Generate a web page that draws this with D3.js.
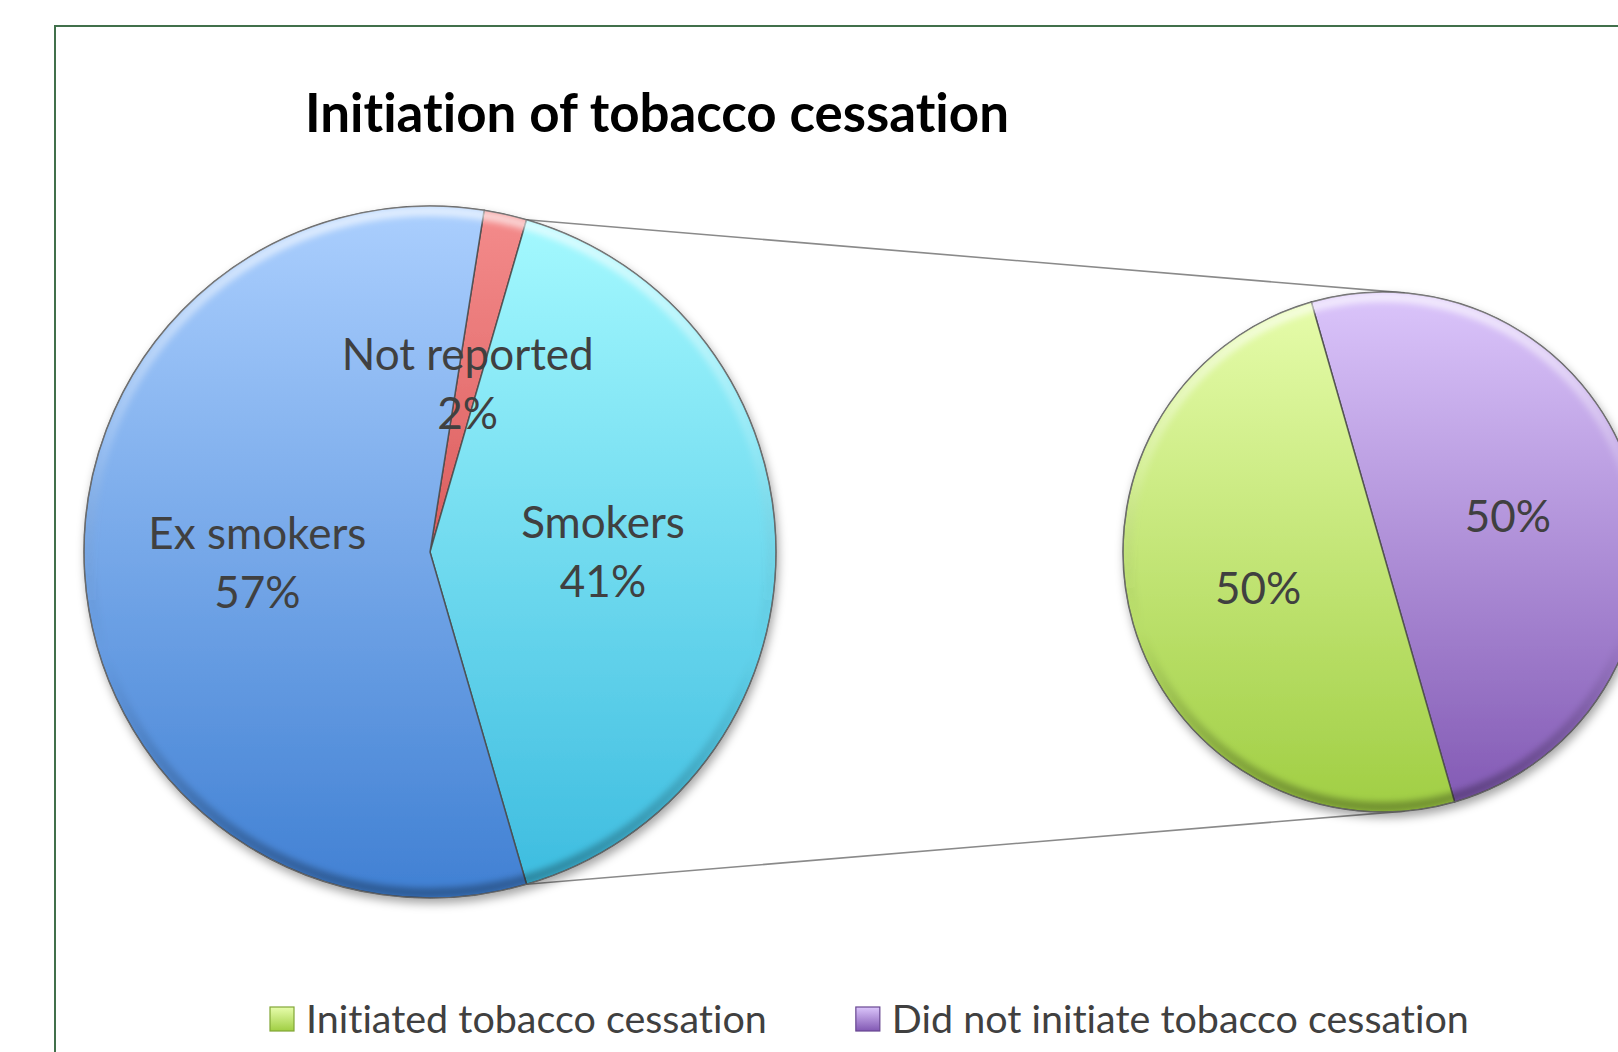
<!DOCTYPE html>
<html><head><meta charset="utf-8">
<script src="https://cdn.jsdelivr.net/npm/d3@7"></script>
<style>html,body{margin:0;padding:0;background:#fff;overflow:hidden} text{font-variant-ligatures:none;font-feature-settings:"liga" 0,"clig" 0}</style>
</head><body>
<svg id="chart" width="1618" height="1052"></svg>
<script>
// ---------- data ----------
const titleText = "Initiation of tobacco cessation";
const mainCategories = ["Not reported", "Smokers", "Ex smokers"];
const mainValues = [2, 41, 57];
const mainLabels = ["2%", "41%", "57%"];
const splitCategory = "Smokers";
const subCategories = ["Did not initiate tobacco cessation", "Initiated tobacco cessation"];
const subValues = [50, 50];
const subLabels = ["50%", "50%"];
const legendCategories = ["Initiated tobacco cessation", "Did not initiate tobacco cessation"];

// ---------- styles ----------
const sliceColors = {
  "Not reported": ["#f48c8c", "#c22e2e"],
  "Smokers": ["#a6faff", "#3bbbdf"],
  "Ex smokers": ["#abcffe", "#4080d3"],
  "Initiated tobacco cessation": ["#e7fdac", "#a0ce43"],
  "Did not initiate tobacco cessation": ["#dbc5fb", "#8158b3"]
};
const FONT = "Lato, 'Open Sans', sans-serif";
const W = 1618, H = 1052;
const mainC = {x: 430, y: 552, r: 346};
const subC = {x: 1383, y: 552, r: 260};

const svg = d3.select("#chart");
const defs = svg.append("defs");

// frame
svg.append("rect").attr("x", 55).attr("y", 26).attr("width", W).attr("height", H)
  .attr("fill", "none").attr("stroke", "#41704b").attr("stroke-width", 2);

// filters
const sh = defs.append("filter").attr("id", "shadow").attr("x", "-10%").attr("y", "-10%").attr("width", "120%").attr("height", "125%");
sh.append("feDropShadow").attr("dx", 2).attr("dy", 5).attr("stdDeviation", 5)
  .attr("flood-color", "#000").attr("flood-opacity", 0.35);
defs.append("filter").attr("id", "blur").append("feGaussianBlur").attr("stdDeviation", 3);

// rim gradient (bevel)
const rim = defs.append("linearGradient").attr("id", "rim").attr("x1", 0).attr("y1", 0).attr("x2", 0).attr("y2", 1);
rim.append("stop").attr("offset", "0%").attr("stop-color", "#fff").attr("stop-opacity", 0.65);
rim.append("stop").attr("offset", "35%").attr("stop-color", "#fff").attr("stop-opacity", 0.15);
rim.append("stop").attr("offset", "65%").attr("stop-color", "#000").attr("stop-opacity", 0.0);
rim.append("stop").attr("offset", "100%").attr("stop-color", "#000").attr("stop-opacity", 0.3);

function makeGrad(id, cols, c) {
  const g = defs.append("linearGradient").attr("id", id).attr("gradientUnits", "userSpaceOnUse")
    .attr("x1", 0).attr("x2", 0).attr("y1", c.y - c.r).attr("y2", c.y + c.r);
  g.append("stop").attr("offset", "0%").attr("stop-color", cols[0]);
  g.append("stop").attr("offset", "100%").attr("stop-color", cols[1]);
  return "url(#" + id + ")";
}

// ---------- pies ----------
const total = d3.sum(mainValues);
const splitIdx = mainCategories.indexOf(splitCategory);
const before = d3.sum(mainValues.slice(0, splitIdx));
const mainStart = Math.PI / 2 - Math.PI * mainValues[splitIdx] / total - 2 * Math.PI * before / total;
const mainPie = d3.pie().sort(null).startAngle(mainStart).endAngle(mainStart + 2 * Math.PI);
const mainArcs = mainPie(mainValues);

const subStart = -16 * Math.PI / 180;
const subPie = d3.pie().sort(null).startAngle(subStart).endAngle(subStart + 2 * Math.PI);
const subArcs = subPie(subValues);

// connectors (tangent from main split-slice edges to secondary pie)
function polar(c, a, r) { return [c.x + r * Math.sin(a), c.y - r * Math.cos(a)]; }
function tangent(P, c, pickTop) {
  const dx = P[0] - c.x, dy = P[1] - c.y, d = Math.hypot(dx, dy);
  const phi = Math.atan2(dy, dx), al = Math.acos(c.r / d);
  const t1 = [c.x + c.r * Math.cos(phi + al), c.y + c.r * Math.sin(phi + al)];
  const t2 = [c.x + c.r * Math.cos(phi - al), c.y + c.r * Math.sin(phi - al)];
  return pickTop ? (t1[1] < t2[1] ? t1 : t2) : (t1[1] > t2[1] ? t1 : t2);
}
const splitArc = mainArcs[splitIdx];
const pTop = polar(mainC, splitArc.startAngle, mainC.r);
const pBot = polar(mainC, splitArc.endAngle, mainC.r);
const line = d3.line();
[[pTop, tangent(pTop, subC, true)], [pBot, tangent(pBot, subC, false)]].forEach(seg => {
  svg.append("path").attr("d", line(seg)).attr("fill", "none")
    .attr("stroke", "#8a8a8a").attr("stroke-width", 1.6);
});

function drawPie(arcs, cats, c, idp) {
  const arc = d3.arc().innerRadius(0).outerRadius(c.r);
  const g = svg.append("g").attr("transform", `translate(${c.x},${c.y})`);
  const gs = g.append("g").attr("filter", "url(#shadow)");
  gs.selectAll("path").data(arcs).join("path")
    .attr("d", arc)
    .attr("fill", (d, i) => makeGrad(idp + i, sliceColors[cats[i]], {x: 0, y: 0, r: c.r}))
    .attr("stroke", "#4a4a4a").attr("stroke-opacity", 0.85).attr("stroke-width", 1.5)
    .attr("stroke-linejoin", "round");
  // bevel rim
  const clipId = "clip" + idp;
  defs.append("clipPath").attr("id", clipId).append("circle").attr("r", c.r);
  g.append("circle").attr("r", c.r - 5).attr("fill", "none")
    .attr("stroke", "url(#rim)").attr("stroke-width", 10)
    .attr("clip-path", `url(#${clipId})`).attr("filter", "url(#blur)");
  g.append("circle").attr("r", c.r).attr("fill", "none").attr("stroke", "#777").attr("stroke-opacity", 0.6).attr("stroke-width", 1);
  return g;
}
const gMain = drawPie(mainArcs, mainCategories, mainC, "m");
const gSub = drawPie(subArcs, subCategories, subC, "s");

// ---------- text helpers ----------
function fitSize(str, target, weight) {
  const t = svg.append("text").attr("font-family", FONT).attr("font-size", 100)
    .attr("font-weight", weight).text(str);
  const w = t.node().getComputedTextLength();
  t.remove();
  return 100 * target / w;
}
const labelSize = fitSize("Not reported", 252, 400);
const legendSize = fitSize(legendCategories[0], 461, 400);
const titleSize = fitSize(titleText, 704, 700);
const CAP = 0.72;

function multiLabel(g, x, y, lines, size, lh) {
  const n = lines.length;
  lines.forEach((s, i) => {
    g.append("text").attr("x", x).attr("y", y + (i - (n - 1) / 2) * lh + size * CAP / 2)
      .attr("text-anchor", "middle").attr("font-family", FONT).attr("font-size", size)
      .attr("fill", "#404040").text(s);
  });
}

const mainLabArc = d3.arc().innerRadius(0).outerRadius(mainC.r);
mainArcs.forEach((d, i) => {
  const [x, y] = mainLabArc.centroid(d);
  multiLabel(gMain, x, y, [mainCategories[i], mainLabels[i]], labelSize, 59);
});
const subLabArc = d3.arc().innerRadius(0).outerRadius(subC.r);
subArcs.forEach((d, i) => {
  const [x, y] = subLabArc.centroid(d);
  multiLabel(gSub, x, y, [subLabels[i]], labelSize, 59);
});

// title
svg.append("text").attr("x", 657).attr("y", 132).attr("text-anchor", "middle")
  .attr("font-family", FONT).attr("font-weight", 700).attr("font-size", titleSize)
  .attr("fill", "#000").text(titleText);

// legend
let lx = 270;
const ly = 1007, box = 24;
legendCategories.forEach((cat, i) => {
  const cols = sliceColors[cat];
  const gid = "lg" + i;
  const lg = defs.append("linearGradient").attr("id", gid).attr("x1", 0).attr("y1", 0).attr("x2", 0).attr("y2", 1);
  lg.append("stop").attr("offset", "0%").attr("stop-color", cols[0]);
  lg.append("stop").attr("offset", "100%").attr("stop-color", cols[1]);
  svg.append("rect").attr("x", lx).attr("y", ly).attr("width", box).attr("height", box)
    .attr("fill", `url(#${gid})`).attr("stroke", d3.color(cols[1]).darker(0.6)).attr("stroke-width", 1.2);
  const t = svg.append("text").attr("x", lx + 36).attr("y", ly + box / 2 + legendSize * CAP / 2)
    .attr("font-family", FONT).attr("font-size", legendSize).attr("fill", "#404040").text(cat);
  lx = lx + 36 + t.node().getComputedTextLength() + 89;
});
</script>
</body></html>
